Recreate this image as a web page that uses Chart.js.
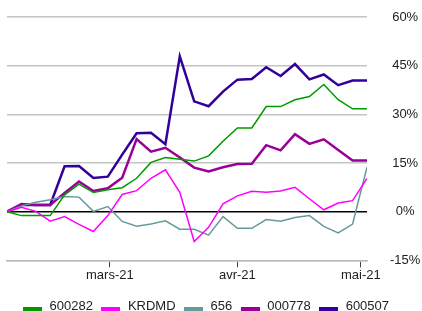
<!DOCTYPE html>
<html lang="fr">
<head>
    <meta charset="UTF-8">
    <title>Performance cumulée</title>
    <script src="https://cdn.jsdelivr.net/npm/chart.js@4.4.0/dist/chart.umd.min.js"></script>
    <style>
        body {
            margin: 0;
            background: #fff;
            font-family: "Liberation Sans", Arial, sans-serif;
        }
        #wrap {
            position: relative;
            width: 422px;
            height: 311px;
        }
        #wrap canvas {
            position: absolute;
            left: 0;
            top: 0;
        }
        #legend {
            position: absolute;
            left: 23px;
            top: 298px;
            display: flex;
            gap: 8.5px;
            font-size: 13px;
            line-height: 15px;
            color: #222;
            white-space: nowrap;
        }
        .item {
            display: flex;
            align-items: flex-start;
        }
        .box {
            width: 19px;
            height: 4px;
            margin-top: 9px;
            margin-right: 7.5px;
        }
    </style>
</head>
<body>
    <div id="wrap">
        <canvas id="perfChart" width="422" height="311"></canvas>
        <div id="legend"></div>
    </div>

    <script>
        // days since 4 Feb 2021, one point every 3.5 days
        const dayOffsets = [0, 3.5, 7, 10.5, 14, 17.5, 21, 24.5, 28, 31.5, 35, 38.5, 42,
                            45.5, 49, 52.5, 56, 59.5, 63, 66.5, 70, 73.5, 77, 80.5, 84, 87.5];

        // cumulative change, %
        const s600282 = [0, -1.2, -1.2, -1.2, 5.2, 8.5, 5.9, 6.8, 7.4, 10.3, 15.2, 16.7, 16.2,
                         15.6, 17.2, 21.7, 25.8, 25.8, 32.4, 32.4, 34.5, 35.5, 39.2, 34.5, 31.7, 31.7];
        const sKRDMD  = [0, 1.4, 0.1, -2.9, -1.5, -3.9, -6.1, -1.2, 5.3, 6.5, 10.3, 12.9, 6.0,
                         -9.2, -4.8, 2.4, 4.9, 6.3, 6.0, 6.4, 7.5, 4.0, 0.6, 2.7, 3.4, 10.3];
        const s656    = [0, 1.8, 2.9, 3.7, 4.7, 4.5, 0.1, 1.6, -3.0, -4.5, -3.8, -2.8, -5.4,
                         -5.4, -7.2, -1.5, -5.1, -5.1, -2.4, -2.9, -1.8, -1.2, -4.5, -6.5, -3.8, 13.7];
        const s000778 = [0, 2.4, 2.1, 2.1, 5.8, 9.3, 6.4, 7.2, 10.5, 22.4, 18.5, 19.7, 16.7,
                         13.6, 12.4, 13.7, 14.7, 14.8, 20.5, 18.9, 23.9, 20.9, 22.3, 19.0, 15.8, 15.8];
        const s600507 = [0, 2.1, 2.1, 2.1, 14.0, 14.1, 10.4, 10.8, 17.6, 24.2, 24.3, 20.8, 47.9,
                         34.0, 32.5, 37.0, 40.7, 40.9, 44.5, 41.8, 45.5, 40.8, 42.3, 39.0, 40.4, 40.4];

        const seriesNames = ['600282', 'KRDMD', '656', '000778', '600507'];
        const seriesData = [s600282, sKRDMD, s656, s000778, s600507];
        const seriesColors = ['#009900', '#ff00ff', '#669999', '#990099', '#330099'];
        const seriesWidths = [1.5, 1.5, 1.5, 2.5, 2.5];

        // month ticks (days since 4 Feb 2021)
        const tickDays = [25, 56, 86];
        const tickLabels = ['mars-21', 'avr-21', 'mai-21'];

        Chart.defaults.font.family = '"Liberation Sans", Arial, sans-serif';
        Chart.defaults.font.size = 13;
        Chart.defaults.color = '#222';

        const datasets = seriesNames.map((name, k) => ({
            label: name,
            data: dayOffsets.map((d, i) => ({ x: d, y: seriesData[k][i] })),
            borderColor: seriesColors[k],
            backgroundColor: seriesColors[k],
            borderWidth: seriesWidths[k],
            pointRadius: 0,
            tension: 0,
            fill: false
        }));

        new Chart(document.getElementById('perfChart'), {
            type: 'line',
            data: { datasets },
            options: {
                responsive: false,
                animation: false,
                layout: { padding: { left: 7, top: 17, right: 2, bottom: 28 } },
                plugins: {
                    legend: { display: false },
                    tooltip: { enabled: false }
                },
                scales: {
                    x: {
                        type: 'linear',
                        min: 0,
                        max: 87.5,
                        afterBuildTicks: axis => { axis.ticks = tickDays.map(v => ({ value: v })); },
                        ticks: {
                            autoSkip: false,
                            maxRotation: 0,
                            padding: 0,
                            callback: v => tickLabels[tickDays.indexOf(v)]
                        },
                        grid: {
                            drawOnChartArea: false,
                            drawTicks: true,
                            tickLength: 7,
                            color: '#444',
                            lineWidth: 1
                        },
                        border: { color: '#bbbbbb', width: 1.5 }
                    },
                    y: {
                        position: 'right',
                        min: -15,
                        max: 60,
                        // fixed axis width; label padding should not push the plot down
                        afterFit: axis => {
                            axis.width = 53;
                            axis.paddingTop = 0;
                            axis.paddingBottom = 0;
                        },
                        ticks: {
                            stepSize: 15,
                            padding: 23,
                            crossAlign: 'center',
                            callback: v => v + '%'
                        },
                        grid: {
                            drawTicks: false,
                            color: c => c.tick.value === 0 ? '#000' : '#c4c4c4',
                            lineWidth: 1.5
                        },
                        border: { display: false }
                    }
                }
            }
        });

        // legend below the chart
        const legend = document.getElementById('legend');
        seriesNames.forEach((name, k) => {
            const item = document.createElement('div');
            item.className = 'item';
            const box = document.createElement('span');
            box.className = 'box';
            box.style.background = seriesColors[k];
            const txt = document.createElement('span');
            txt.textContent = name;
            item.appendChild(box);
            item.appendChild(txt);
            legend.appendChild(item);
        });
    </script>
</body>
</html>
